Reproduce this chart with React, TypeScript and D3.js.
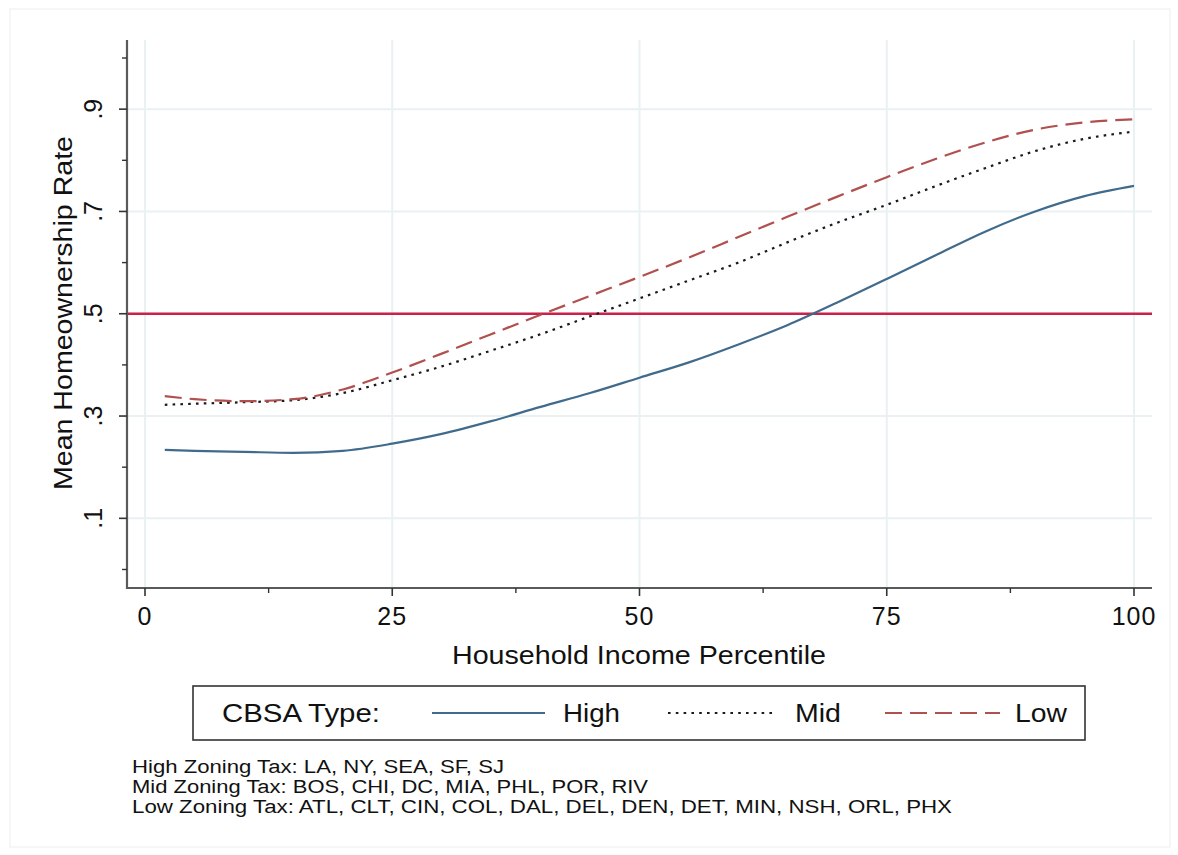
import React from "react";
import * as d3 from "d3";

const pct = [2, 5, 10, 15, 20, 25, 30, 35, 40, 45, 50, 55, 60, 65, 70, 75, 80, 85, 90, 95, 100];
const highVals = [0.234, 0.232, 0.23, 0.228, 0.232, 0.246, 0.265, 0.29, 0.318, 0.345, 0.375, 0.405, 0.44, 0.478, 0.522, 0.568, 0.615, 0.661, 0.7, 0.73, 0.75];
const midVals = [0.322, 0.324, 0.327, 0.331, 0.345, 0.37, 0.397, 0.428, 0.46, 0.495, 0.53, 0.565, 0.6, 0.64, 0.678, 0.713, 0.75, 0.785, 0.818, 0.842, 0.856];
const lowVals = [0.339, 0.333, 0.329, 0.333, 0.352, 0.385, 0.422, 0.46, 0.498, 0.535, 0.572, 0.61, 0.65, 0.69, 0.729, 0.767, 0.803, 0.835, 0.86, 0.874, 0.88];
const refLine = 0.5;
const xTicks = [0, 25, 50, 75, 100];
const xMinor = [12.5, 37.5, 62.5, 87.5];
const yTicks = [0.1, 0.3, 0.5, 0.7, 0.9];
const yMinor = [0, 0.2, 0.4, 0.6, 0.8, 1.0];
const yTickLabels = [".1", ".3", ".5", ".7", ".9"];
const legendLabels = ["High", "Mid", "Low"];
const notes = [
  "High Zoning Tax: LA, NY, SEA, SF, SJ",
  "Mid Zoning Tax: BOS, CHI, DC, MIA, PHL, POR, RIV",
  "Low Zoning Tax: ATL, CLT, CIN, COL, DAL, DEL, DEN, DET, MIN, NSH, ORL, PHX",
];
const noteWidths = [372, 516, 820];

const FONT = "'Liberation Sans', Arial, Helvetica, sans-serif";

export default function App() {
  const x = d3.scaleLinear().domain([-1.82, 101.82]).range([127, 1152]);
  const y = d3.scaleLinear().domain([-0.0362, 1.0352]).range([588, 40]);
  const line = d3
    .line<number>()
    .x((_, i) => x(pct[i]))
    .y((d) => y(d))
    .curve(d3.curveMonotoneX);

  const series = [
    { vals: highVals, color: "#416b8c", dash: undefined as string | undefined },
    { vals: midVals, color: "#1a1a1a", dash: "2.6 5.2" },
    { vals: lowVals, color: "#b0504f", dash: "17 8" },
  ];

  const gridColor = "#e9f1f2";
  const axisColor = "#5a5a5a";

  return (
    <svg
      width={1178}
      height={855}
      style={{ position: "absolute", left: 0, top: 0, background: "#fff" }}
      fontFamily={FONT}
    >
      <rect x={10} y={9} width={1160} height={838} fill="#fff" stroke="#f4f4f4" strokeWidth={1.5} />
      {yTicks.map((t) => (
        <line key={"gy" + t} x1={128} x2={1152} y1={y(t)} y2={y(t)} stroke={gridColor} strokeWidth={2} />
      ))}
      {xTicks.map((t) => (
        <line key={"gx" + t} x1={x(t)} x2={x(t)} y1={40} y2={587} stroke={gridColor} strokeWidth={2} />
      ))}
      <line x1={128} x2={1152} y1={y(refLine)} y2={y(refLine)} stroke="#cc1f4a" strokeWidth={2.6} />
      {series.map((s, i) => (
        <path
          key={i}
          d={line(s.vals) || ""}
          fill="none"
          stroke={s.color}
          strokeWidth={2.2}
          strokeDasharray={s.dash}
        />
      ))}
      <line x1={127} x2={127} y1={40} y2={589} stroke={axisColor} strokeWidth={2.2} />
      <line x1={126} x2={1152} y1={588} y2={588} stroke={axisColor} strokeWidth={2.2} />
      {yTicks.map((t, i) => (
        <g key={"yt" + t}>
          <line x1={119} x2={127} y1={y(t)} y2={y(t)} stroke="#333" strokeWidth={1.6} />
          <text
            transform={`translate(102,${y(t)}) rotate(-90)`}
            textAnchor="middle"
            fontSize={25}
            fill="#111"
          >
            {yTickLabels[i]}
          </text>
        </g>
      ))}
      {yMinor.map((t) => (
        <line key={"ym" + t} x1={122} x2={127} y1={y(t)} y2={y(t)} stroke="#333" strokeWidth={1.4} />
      ))}
      {xTicks.map((t) => (
        <g key={"xt" + t}>
          <line x1={x(t)} x2={x(t)} y1={588} y2={596} stroke="#333" strokeWidth={1.6} />
          <text x={x(t)} y={625} textAnchor="middle" fontSize={25} fill="#111" letterSpacing={1}>
            {t}
          </text>
        </g>
      ))}
      {xMinor.map((t) => (
        <line key={"xm" + t} x1={x(t)} x2={x(t)} y1={588} y2={593} stroke="#333" strokeWidth={1.4} />
      ))}
      <text x={452} y={664} fontSize={25} fill="#111" textLength={374} lengthAdjust="spacingAndGlyphs">
        Household Income Percentile
      </text>
      <text
        transform="translate(72,490) rotate(-90)"
        fontSize={25}
        fill="#111"
        textLength={354}
        lengthAdjust="spacingAndGlyphs"
      >
        Mean Homeownership Rate
      </text>
      <rect x={193} y={686} width={892} height={54} fill="#fff" stroke="#333" strokeWidth={1.6} />
      <text x={222} y={722} fontSize={25} fill="#111" textLength={158} lengthAdjust="spacingAndGlyphs">
        CBSA Type:
      </text>
      {[
        { x1: 432, x2: 545, tx: 563, w: 57 },
        { x1: 668, x2: 776, tx: 795, w: 46 },
        { x1: 885, x2: 1000, tx: 1015, w: 52 },
      ].map((p, i) => (
        <g key={"lg" + i}>
          <line
            x1={p.x1}
            x2={p.x2}
            y1={713}
            y2={713}
            stroke={series[i].color}
            strokeWidth={2}
            strokeDasharray={series[i].dash}
          />
          <text x={p.tx} y={722} fontSize={25} fill="#111" textLength={p.w} lengthAdjust="spacingAndGlyphs">
            {legendLabels[i]}
          </text>
        </g>
      ))}
      {notes.map((n, i) => (
        <text
          key={"n" + i}
          x={132}
          y={773 + i * 20}
          fontSize={18}
          fill="#111"
          textLength={noteWidths[i]}
          lengthAdjust="spacingAndGlyphs"
        >
          {n}
        </text>
      ))}
    </svg>
  );
}
